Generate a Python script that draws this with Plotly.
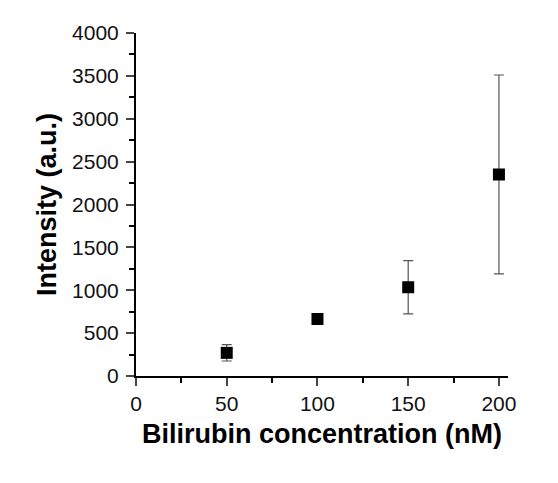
import plotly.graph_objects as go

concentration = [50, 100, 150, 200]
intensity = [270, 665, 1035, 2350]
error = [95, 20, 310, 1160]

x_ticks = [0, 50, 100, 150, 200]
y_ticks = [0, 500, 1000, 1500, 2000, 2500, 3000, 3500, 4000]

fig = go.Figure()
fig.add_trace(go.Scatter(
    x=concentration, y=intensity, mode="markers",
    marker=dict(symbol="square", size=12, color="black"),
    error_y=dict(type="data", array=error, visible=True, color="#555555",
                 thickness=1.2, width=5),
    showlegend=False,
))

font_family = "Liberation Sans, Arial, sans-serif"
fig.update_layout(
    width=558, height=483,
    margin=dict(l=136, r=50, t=33, b=107),
    paper_bgcolor="white", plot_bgcolor="white",
    font=dict(family=font_family, color="black"),
    xaxis=dict(
        range=[0, 205], tickvals=x_ticks, ticks="outside", ticklen=8, tickwidth=2,
        showline=True, linecolor="black", linewidth=2, showgrid=False, zeroline=False,
        tickfont=dict(size=21, color="#111"),
        minor=dict(dtick=25, tick0=0, ticks="outside", ticklen=5, tickwidth=2, tickcolor="black"),
        title=dict(text="<b>Bilirubin concentration (nM)</b>", font=dict(size=27), standoff=10),
    ),
    yaxis=dict(
        range=[0, 4000], tickvals=y_ticks, ticks="outside", ticklen=8, tickwidth=2,
        showline=True, linecolor="black", linewidth=2, showgrid=False, zeroline=False,
        tickfont=dict(size=21, color="#111"), ticklabelstandoff=3,
        minor=dict(dtick=250, tick0=0, ticks="outside", ticklen=5, tickwidth=2, tickcolor="black"),
        title=dict(text="<b>Intensity (a.u.)</b>", font=dict(size=27), standoff=8),
    ),
)

fig.write_html("out.html")
